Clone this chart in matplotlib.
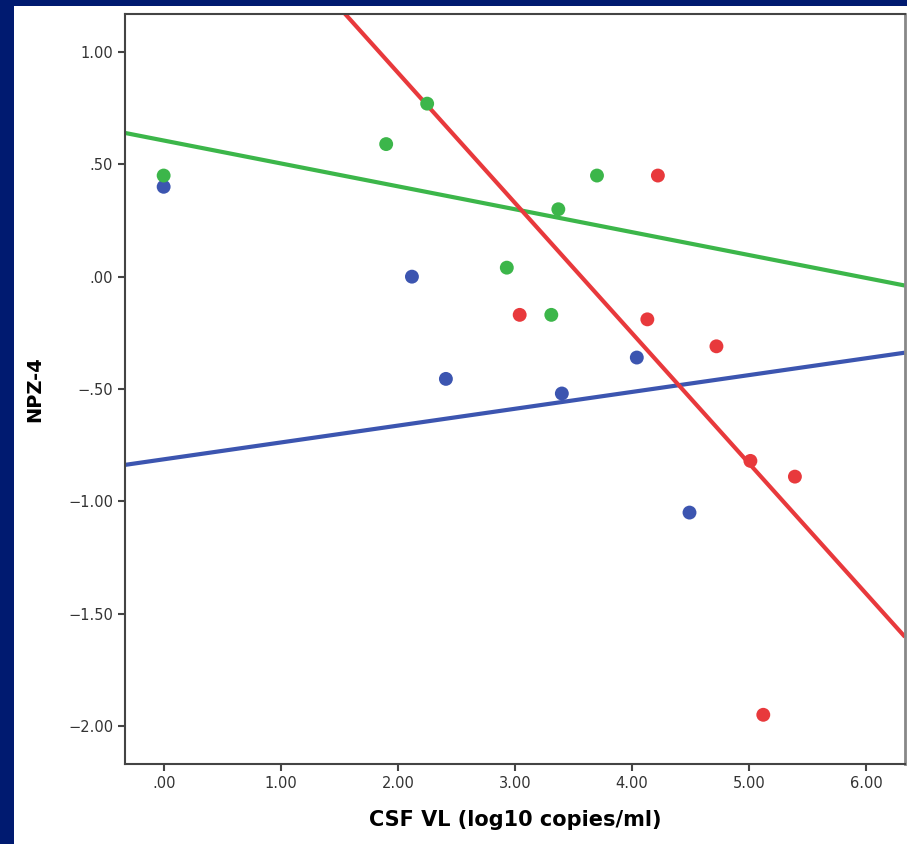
import numpy as np
import matplotlib
matplotlib.use("Agg")
import matplotlib.pyplot as plt
from matplotlib.patches import Rectangle

# points per group (x = CSF VL log10, y = NPZ-4)
blue_x = [0.00, 2.12, 2.41, 3.40, 4.04, 4.49]
blue_y = [0.40, 0.00, -0.455, -0.52, -0.36, -1.05]
green_x = [0.00, 1.90, 2.25, 2.93, 3.31, 3.37, 3.70]
green_y = [0.45, 0.59, 0.77, 0.04, -0.17, 0.30, 0.45]
red_x = [3.04, 4.22, 4.13, 4.72, 5.01, 5.39, 5.12]
red_y = [-0.17, 0.45, -0.19, -0.31, -0.82, -0.89, -1.95]

# fit lines (intercept, slope) as drawn
blue_fit = (-0.813, 0.075)
green_fit = (0.606, -0.102)
red_fit = (2.068, -0.580)

xticks = [0, 1, 2, 3, 4, 5, 6]
xticklabels = [".00", "1.00", "2.00", "3.00", "4.00", "5.00", "6.00"]
yticks = [1.0, 0.5, 0.0, -0.5, -1.0, -1.5, -2.0]
yticklabels = ["1.00", ".50", ".00", "\u2212.50", "\u22121.00", "\u22121.50", "\u22122.00"]

BLUE = "#3c55b0"
GREEN = "#3cb64a"
RED = "#e8393c"
NAVY = "#001a70"

fig = plt.figure(figsize=(9.07, 8.44), dpi=100, facecolor=NAVY)
bg = fig.add_axes([0, 0, 1, 1], zorder=0)
bg.axis("off")
bg.add_patch(Rectangle((14 / 907, 0), 1, (844 - 6) / 844,
                       transform=bg.transAxes, facecolor="white", edgecolor="none"))
ax = fig.add_axes([125 / 907, 80 / 844, (905 - 125) / 907, (764 - 14) / 844], zorder=1)

xlim = (-0.33, 6.33)
ax.set_xlim(xlim)
ax.set_ylim(-2.169, 1.169)

xs = np.array(xlim)
for (b0, b1), c in [(blue_fit, BLUE), (green_fit, GREEN), (red_fit, RED)]:
    ax.plot(xs, b0 + b1 * xs, color=c, lw=3, zorder=2, solid_capstyle="butt")

for x, y, c in [(blue_x, blue_y, BLUE), (green_x, green_y, GREEN), (red_x, red_y, RED)]:
    ax.scatter(x, y, s=100, color=c, edgecolors="none", zorder=3)

ax.set_xticks(xticks)
ax.set_xticklabels(xticklabels)
ax.set_yticks(yticks)
ax.set_yticklabels(yticklabels)
ax.tick_params(direction="out", length=5, width=1.5, color="#444444",
               labelsize=10.5, labelcolor="#333333")

for side in ["left", "bottom", "top"]:
    ax.spines[side].set_color("#444444")
    ax.spines[side].set_linewidth(1.5)
ax.spines["right"].set_color("#888888")
ax.spines["right"].set_linewidth(2)

ax.set_xlabel("CSF VL (log10 copies/ml)", fontsize=15, fontweight="bold", labelpad=14)
ax.set_ylabel("NPZ-4", fontsize=14, fontweight="bold", labelpad=17)

fig.savefig("out.png", dpi=100, facecolor=NAVY)
